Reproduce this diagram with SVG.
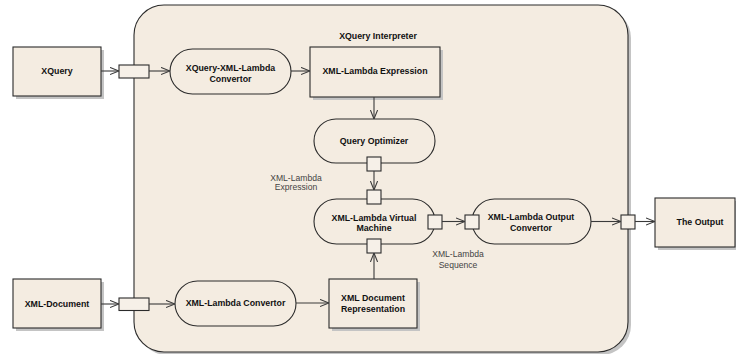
<svg xmlns="http://www.w3.org/2000/svg" width="736" height="354" viewBox="0 0 736 354">
  <style>
    .shape { fill: #F4ECE1; stroke: #2b2b2b; stroke-width: 1.1; }
    .shadow { fill: #c4c4c4; stroke: none; }
    .port { fill: #F6F0E8; stroke: #2b2b2b; stroke-width: 1.1; }
    .lbl { font-family: "Liberation Sans", Arial, sans-serif; font-size: 8.8px; font-weight: bold; fill: #111; text-anchor: middle; }
    .note { font-family: "Liberation Sans", Arial, sans-serif; font-size: 8.6px; fill: #444; text-anchor: middle; }
    .conn { fill: none; stroke: #3a3a3a; stroke-width: 1.1; marker-end: url(#open); }
  </style>
  <defs>
    <marker id="open" viewBox="0 0 10 10" refX="10" refY="5" markerWidth="9" markerHeight="9" markerUnits="userSpaceOnUse" orient="auto">
      <path d="M0,1 L10,5 L0,9" fill="none" stroke="#3a3a3a" stroke-width="1.2"/>
    </marker>
  </defs>

  <!-- interpreter boundary -->
  <g id="interpreter">
    <rect class="shadow" x="137" y="8" width="494" height="347" rx="30"/>
    <rect class="shape" x="134" y="5" width="494" height="347" rx="30"/>
    <text class="lbl" x="378" y="39">XQuery Interpreter</text>
  </g>

  <g id="xquery">
    <rect class="shadow" x="16" y="50" width="88" height="49"/>
    <rect class="shape" x="13" y="47" width="88" height="49"/>
    <text class="lbl" x="57" y="74">XQuery</text>
  </g>

  <g id="xquery-port">
    <rect class="port" x="119" y="65" width="30" height="13"/>
  </g>

  <g id="xquery-convertor">
    <rect class="shape" x="170" y="49" width="121" height="45" rx="22.5"/>
    <text class="lbl" x="230.5" y="70.5">XQuery-XML-Lambda</text>
    <text class="lbl" x="230.5" y="82">Convertor</text>
  </g>

  <g id="lambda-expression">
    <rect class="shadow" x="313" y="50" width="130" height="50"/>
    <rect class="shape" x="310" y="47" width="130" height="50"/>
    <text class="lbl" x="375" y="74">XML-Lambda Expression</text>
  </g>

  <g id="query-optimizer">
    <rect class="shape" x="314" y="119" width="121" height="44" rx="22"/>
    <text class="lbl" x="374" y="144">Query Optimizer</text>
    <rect class="port" x="367" y="157" width="14" height="14"/>
  </g>

  <g id="virtual-machine">
    <rect class="shape" x="314" y="199" width="121" height="45" rx="22.5"/>
    <text class="lbl" x="374" y="220.5">XML-Lambda Virtual</text>
    <text class="lbl" x="374" y="231">Machine</text>
    <rect class="port" x="367" y="190" width="14" height="14"/>
    <rect class="port" x="367" y="239" width="14" height="14"/>
    <rect class="port" x="428" y="215" width="14" height="14"/>
  </g>

  <g id="output-convertor">
    <rect class="shape" x="472" y="199" width="119" height="45" rx="22.5"/>
    <text class="lbl" x="531" y="220">XML-Lambda Output</text>
    <text class="lbl" x="531" y="231">Convertor</text>
    <rect class="port" x="465" y="215" width="14" height="14"/>
  </g>

  <g id="output-port">
    <rect class="port" x="621" y="215" width="14" height="14"/>
  </g>

  <g id="the-output">
    <rect class="shadow" x="658" y="201" width="80" height="49"/>
    <rect class="shape" x="655" y="198" width="80" height="49"/>
    <text class="lbl" x="700" y="224.5">The Output</text>
  </g>

  <g id="xml-document">
    <rect class="shadow" x="16" y="282" width="88" height="49"/>
    <rect class="shape" x="13" y="279" width="88" height="49"/>
    <text class="lbl" x="57" y="306.5">XML-Document</text>
  </g>

  <g id="document-port">
    <rect class="port" x="119" y="298" width="30" height="12.5"/>
  </g>

  <g id="lambda-convertor">
    <rect class="shape" x="175" y="281" width="121" height="45" rx="22.5"/>
    <text class="lbl" x="235.5" y="306">XML-Lambda Convertor</text>
  </g>

  <g id="document-representation">
    <rect class="shadow" x="332" y="282" width="88" height="49"/>
    <rect class="shape" x="329" y="279" width="88" height="49"/>
    <text class="lbl" x="373" y="300.5">XML Document</text>
    <text class="lbl" x="373" y="312">Representation</text>
  </g>

  <!-- flow labels -->
  <g id="flow-labels">
    <text class="note" x="296" y="180.5">XML-Lambda</text>
    <text class="note" x="296" y="189.5">Expression</text>
    <text class="note" x="458" y="256.5">XML-Lambda</text>
    <text class="note" x="458" y="268">Sequence</text>
  </g>

  <g id="connectors">
    <path class="conn" d="M101,71 L119,71"/>
    <path class="conn" d="M149,71 L170,71"/>
    <path class="conn" d="M291,71 L310,71"/>
    <path class="conn" d="M374,97 L374,119"/>
    <path class="conn" d="M374,171 L374,190"/>
    <path class="conn" d="M442,221.5 L465,221.5"/>
    <path class="conn" d="M591,221.5 L621,221.5"/>
    <path class="conn" d="M635,221.5 L655,221.5"/>
    <path class="conn" d="M101,304 L119,304"/>
    <path class="conn" d="M149,304 L175,304"/>
    <path class="conn" d="M296,303 L329,303"/>
    <path class="conn" d="M374,279 L374,253"/>
  </g>
</svg>
